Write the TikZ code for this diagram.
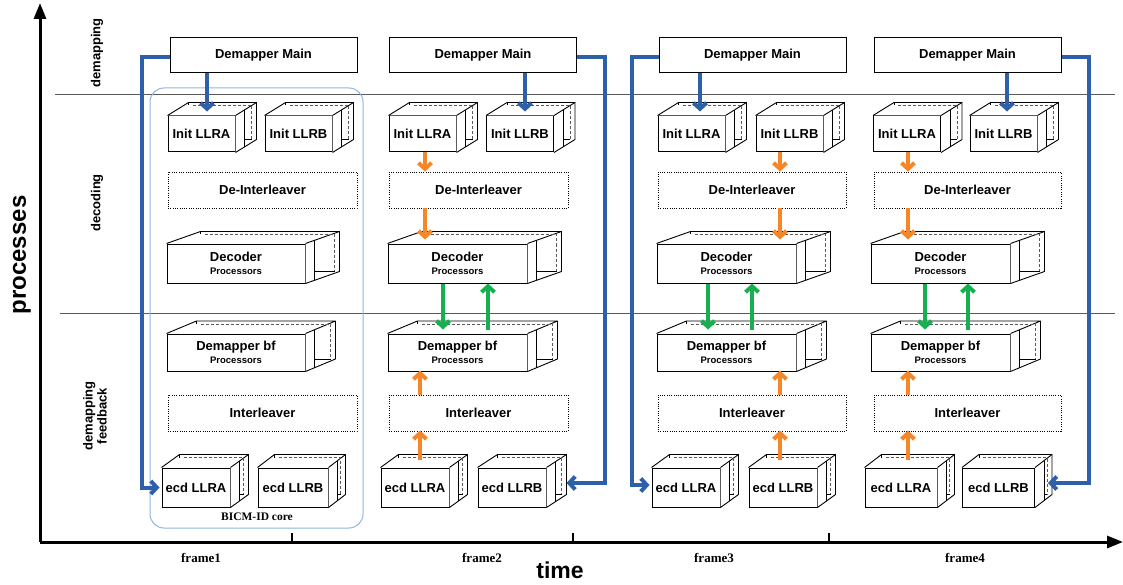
\documentclass[tikz,border=0pt]{standalone}
\usepackage{fontspec}
\setmainfont{Liberation Sans}
\newfontfamily\serifbf{Liberation Serif}
\usetikzlibrary{arrows.meta,calc}
\definecolor{myblue}{RGB}{46,95,170}
\definecolor{myorange}{RGB}{245,135,40}
\definecolor{mygreen}{RGB}{22,176,80}
\definecolor{boxblue}{RGB}{141,180,226}
\newcommand\cubedeco[3]{%
  \coordinate (tl) at (#1.north west);
  \coordinate (tr) at (#1.north east);
  \coordinate (br) at (#1.south east);
  \coordinate (btl) at ($(tl)+(#2,-#3)$);
  \coordinate (btr) at ($(tr)+(#2,-#3)$);
  \coordinate (bbr) at ($(br)+(#2,-#3)$);
  \fill[white] (tl) -- (btl) -- (btr) -- (bbr) -- (br) -- (tr) -- cycle;
  \draw[cubedge] (tl) -- (btl) -- (btr) -- (tr);
  \draw[cubedge] (btr) -- (bbr) -- (br);
  \draw[cubedge] ($(tr)+(9,{-9*#3/#2})$) -- ($(br)+(9,{-9*#3/#2})$);
  \draw[cubedash] ($(btl)+(4,3)$) -- ($(btr)+(-5,3)$) -- ($(bbr)+(-5,0)$);
  \draw[cubedge] ($(br)+(9,-#3)$) -- ($(bbr)+(-5,0)$);
  \draw[cubedge] (btl) -- ++(0,3);
}
\begin{document}
\begin{tikzpicture}[x=1pt,y=-1pt,
  lbl/.style={font=\bfseries\fontsize{13}{14}\selectfont},
  cube/.style={draw, line width=1pt, fill=white, inner sep=0pt, align=center, lbl},
  mainbox/.style={draw, line width=1pt, fill=white, minimum width=187, minimum height=35, inner sep=0pt, lbl},
  dotbox/.style={draw, line width=0.9pt, dash pattern=on 0.9pt off 1.4pt, minimum height=36, inner sep=0pt, lbl},
  cubedge/.style={line width=0.9pt, line join=round},
  cubedash/.style={line width=0.8pt, dash pattern=on 3pt off 2pt, black!65},
  sepline/.style={line width=1pt, black!65},
  bluearr/.style={line width=4pt, myblue, -{Straight Barb[length=6pt,width=13pt]}},
  orarr/.style={line width=4pt, myorange, -{Straight Barb[length=6pt,width=13pt]}},
  grarr/.style={line width=4pt, mygreen, -{Straight Barb[length=6pt,width=13pt]}},
  axis/.style={line width=3pt, -{Triangle[length=16pt,width=12pt]}},
  framelab/.style={font=\serifbf\bfseries\fontsize{13}{14}\selectfont},
  rowlab/.style={rotate=90, align=center, font=\bfseries\fontsize{13}{14}\selectfont},
  proc/.style={font=\bfseries\fontsize{9.5}{10}\selectfont}
]
\useasboundingbox (0,0) rectangle (1123,585);

% axes
\coordinate (o) at (40,542);
\coordinate (ytop) at (40,3);
\coordinate (xend) at (1123,542);
\draw[axis] (o) -- (ytop);
\draw[axis] (o) -- (xend);
\coordinate (t1) at (292,542);
\coordinate (t2) at (573,542);
\coordinate (t3) at (829,542);
\foreach \t in {t1,t2,t3} \draw[line width=2.5pt] (\t) -- ++(0,-9);
\node[framelab] (f1) at (201,558) {frame1};
\node[framelab] (f2) at (482,558) {frame2};
\node[framelab] (f3) at (714,558) {frame3};
\node[framelab] (f4) at (965,558) {frame4};
\node[font=\bfseries\fontsize{23}{24}\selectfont] (time) at (560,570) {time};
\node[rotate=90, font=\bfseries\fontsize{24}{25}\selectfont] (proc) at (22,255) {processes};

% row labels
\node[rowlab] (r1) at (97,53) {demapping};
\node[rowlab] (r2) at (97,203) {decoding};
\node[rowlab] (r3) at (95,416) {demapping\\feedback};

% separators
\coordinate (s1a) at (55,95); \coordinate (s1b) at (1115,95);
\coordinate (s2a) at (60,313); \coordinate (s2b) at (1115,313);
\draw[sepline] (s1a) -- (s1b);
\draw[sepline] (s2a) -- (s2b);

% BICM-ID core
\node[draw=boxblue, line width=1pt, rounded corners=14pt, minimum width=213, minimum height=440] (core) at (256.5,308) {};
\node[framelab, font=\serifbf\bfseries\fontsize{11.5}{12}\selectfont] (corelab) at (257,517) {BICM-ID core};

% ---------- column 1
\node[mainbox] (m1) at (263.5,55.5) {Demapper Main};
\node[cube, minimum width=67, minimum height=36] (ia1) at (201.5,134) {Init LLRA}; \cubedeco{ia1}{21}{13}
\node[cube, minimum width=67, minimum height=36] (ib1) at (298.5,134) {Init LLRB}; \cubedeco{ib1}{21}{13}
\node[dotbox, minimum width=189] (di1) at (262.5,190) {De-Interleaver};
\node[cube, minimum width=138, minimum height=39] (dc1) at (236,263.5) {Decoder\\[-1pt]{\fontsize{9.5}{10}\selectfont Processors}}; \cubedeco{dc1}{34}{12}
\node[cube, minimum width=138, minimum height=37] (db1) at (236,352.5) {Demapper bf\\[-1pt]{\fontsize{9.5}{10}\selectfont Processors}}; \cubedeco{db1}{30}{12.5}
\node[dotbox, minimum width=189] (il1) at (262.5,413) {Interleaver};
\node[cube, minimum width=68, minimum height=39] (ea1) at (196,487.5) {ecd LLRA}; \cubedeco{ea1}{18}{13}
\node[cube, minimum width=70, minimum height=39] (eb1) at (293,487.5) {ecd LLRB}; \cubedeco{eb1}{17}{13}

% ---------- column 2
\node[mainbox] (m2) at (483,55.5) {Demapper Main};
\node[cube, minimum width=67, minimum height=36] (ia2) at (422.5,134) {Init LLRA}; \cubedeco{ia2}{21}{13}
\node[cube, minimum width=67, minimum height=36] (ib2) at (520,134) {Init LLRB}; \cubedeco{ib2}{21}{13}
\node[dotbox, minimum width=179] (di2) at (478.5,190) {De-Interleaver};
\node[cube, minimum width=139, minimum height=39] (dc2) at (457.5,263.5) {Decoder\\[-1pt]{\fontsize{9.5}{10}\selectfont Processors}}; \cubedeco{dc2}{34}{12}
\node[cube, minimum width=139, minimum height=37] (db2) at (457.5,352.5) {Demapper bf\\[-1pt]{\fontsize{9.5}{10}\selectfont Processors}}; \cubedeco{db2}{30}{12.5}
\node[dotbox, minimum width=179] (il2) at (478.5,413) {Interleaver};
\node[cube, minimum width=68, minimum height=39] (ea2) at (415,487.5) {ecd LLRA}; \cubedeco{ea2}{18}{13}
\node[cube, minimum width=68, minimum height=39] (eb2) at (512,487.5) {ecd LLRB}; \cubedeco{eb2}{20}{13}

% ---------- column 3
\node[mainbox] (m3) at (752.5,55.5) {Demapper Main};
\node[cube, minimum width=67, minimum height=36] (ia3) at (691.5,134) {Init LLRA}; \cubedeco{ia3}{21}{13}
\node[cube, minimum width=67, minimum height=36] (ib3) at (789.5,134) {Init LLRB}; \cubedeco{ib3}{21}{13}
\node[dotbox, minimum width=188] (di3) at (752,190) {De-Interleaver};
\node[cube, minimum width=139, minimum height=39] (dc3) at (726.5,263.5) {Decoder\\[-1pt]{\fontsize{9.5}{10}\selectfont Processors}}; \cubedeco{dc3}{34}{12}
\node[cube, minimum width=139, minimum height=37] (db3) at (726.5,352.5) {Demapper bf\\[-1pt]{\fontsize{9.5}{10}\selectfont Processors}}; \cubedeco{db3}{30}{12.5}
\node[dotbox, minimum width=188] (il3) at (752,413) {Interleaver};
\node[cube, minimum width=68, minimum height=39] (ea3) at (686,487.5) {ecd LLRA}; \cubedeco{ea3}{18}{13}
\node[cube, minimum width=68, minimum height=39] (eb3) at (783,487.5) {ecd LLRB}; \cubedeco{eb3}{18}{13}

% ---------- column 4
\node[mainbox] (m4) at (967.5,55.5) {Demapper Main};
\node[cube, minimum width=67, minimum height=36] (ia4) at (907,134) {Init LLRA}; \cubedeco{ia4}{21}{13}
\node[cube, minimum width=67, minimum height=36] (ib4) at (1003.5,134) {Init LLRB}; \cubedeco{ib4}{21}{13}
\node[dotbox, minimum width=187] (di4) at (967.5,190) {De-Interleaver};
\node[cube, minimum width=139, minimum height=39] (dc4) at (940.5,263.5) {Decoder\\[-1pt]{\fontsize{9.5}{10}\selectfont Processors}}; \cubedeco{dc4}{34}{12}
\node[cube, minimum width=139, minimum height=37] (db4) at (940.5,352.5) {Demapper bf\\[-1pt]{\fontsize{9.5}{10}\selectfont Processors}}; \cubedeco{db4}{30}{12.5}
\node[dotbox, minimum width=187] (il4) at (967.5,413) {Interleaver};
\node[cube, minimum width=72, minimum height=39] (ea4) at (901,487.5) {ecd LLRA}; \cubedeco{ea4}{17}{13}
\node[cube, minimum width=72, minimum height=39] (eb4) at (998.5,487.5) {ecd LLRB}; \cubedeco{eb4}{17}{13}

% ---------- blue connectors
\coordinate (bx1) at (207,0);
\coordinate (bx2) at (525,0);
\coordinate (bx3) at (700,0);
\coordinate (bx4) at (1007,0);
\draw[bluearr] (m1.south -| bx1) -- ($(ia1.north -| bx1)+(0,-4)$);
\draw[bluearr] (m2.south -| bx2) -- ($(ib2.north -| bx2)+(0,-4)$);
\draw[bluearr] (m3.south -| bx3) -- ($(ia3.north -| bx3)+(0,-4)$);
\draw[bluearr] (m4.south -| bx4) -- ($(ib4.north -| bx4)+(0,-4)$);
\draw[bluearr] ($(m1.west)+(0,1.5)$) -- ++(-28,0) |- ($(ea1.west)+(-2,0)$);
\draw[bluearr] ($(m2.east)+(0,1.5)$) -- ++(28,0) |- ($(eb2.east)+(20,-4.5)$);
\draw[bluearr] ($(m3.west)+(0,1.5)$) -- ++(-27,0) |- ($(ea3.west)+(-2,-2.5)$);
\draw[bluearr] ($(m4.east)+(0,1.5)$) -- ++(27,0) |- ($(eb4.east)+(13,-4.5)$);

% ---------- orange connectors
\coordinate (ox2) at (425,0);  \coordinate (oy2) at (420,0);
\coordinate (ox3) at (780,0);
\coordinate (ox4) at (908,0);
\draw[orarr] (ia2.south -| ox2) -- (di2.north -| ox2);
\draw[orarr] (di2.south -| ox2) -- ($(dc2.north -| ox2)+(0,-4)$);
\draw[orarr] ($(ea2.north -| oy2)+(0,-8)$) -- ($(il2.south -| oy2)+(0,-1)$);
\draw[orarr] (il2.north -| oy2) -- ($(db2.south -| oy2)+(0,-1)$);
\draw[orarr] (ib3.south -| ox3) -- (di3.north -| ox3);
\draw[orarr] (di3.south -| ox3) -- ($(dc3.north -| ox3)+(0,-4)$);
\draw[orarr] ($(eb3.north -| ox3)+(0,-8)$) -- ($(il3.south -| ox3)+(0,-1)$);
\draw[orarr] (il3.north -| ox3) -- ($(db3.south -| ox3)+(0,-1)$);
\draw[orarr] (ia4.south -| ox4) -- (di4.north -| ox4);
\draw[orarr] (di4.south -| ox4) -- ($(dc4.north -| ox4)+(0,-4)$);
\draw[orarr] ($(ea4.north -| ox4)+(0,-8)$) -- ($(il4.south -| ox4)+(0,-1)$);
\draw[orarr] (il4.north -| ox4) -- ($(db4.south -| ox4)+(0,-1)$);

% ---------- green connectors
\coordinate (gd2) at (443,0); \coordinate (gu2) at (488,0);
\coordinate (gd3) at (708,0); \coordinate (gu3) at (752,0);
\coordinate (gd4) at (925,0); \coordinate (gu4) at (968,0);
\draw[grarr] (dc2.south -| gd2) -- ($(db2.north -| gd2)+(0,-4)$);
\draw[grarr] ($(db2.north -| gu2)+(0,-4)$) -- (dc2.south -| gu2);
\draw[grarr] (dc3.south -| gd3) -- ($(db3.north -| gd3)+(0,-4)$);
\draw[grarr] ($(db3.north -| gu3)+(0,-4)$) -- (dc3.south -| gu3);
\draw[grarr] (dc4.south -| gd4) -- ($(db4.north -| gd4)+(0,-4)$);
\draw[grarr] ($(db4.north -| gu4)+(0,-4)$) -- (dc4.south -| gu4);
\end{tikzpicture}
\end{document}
